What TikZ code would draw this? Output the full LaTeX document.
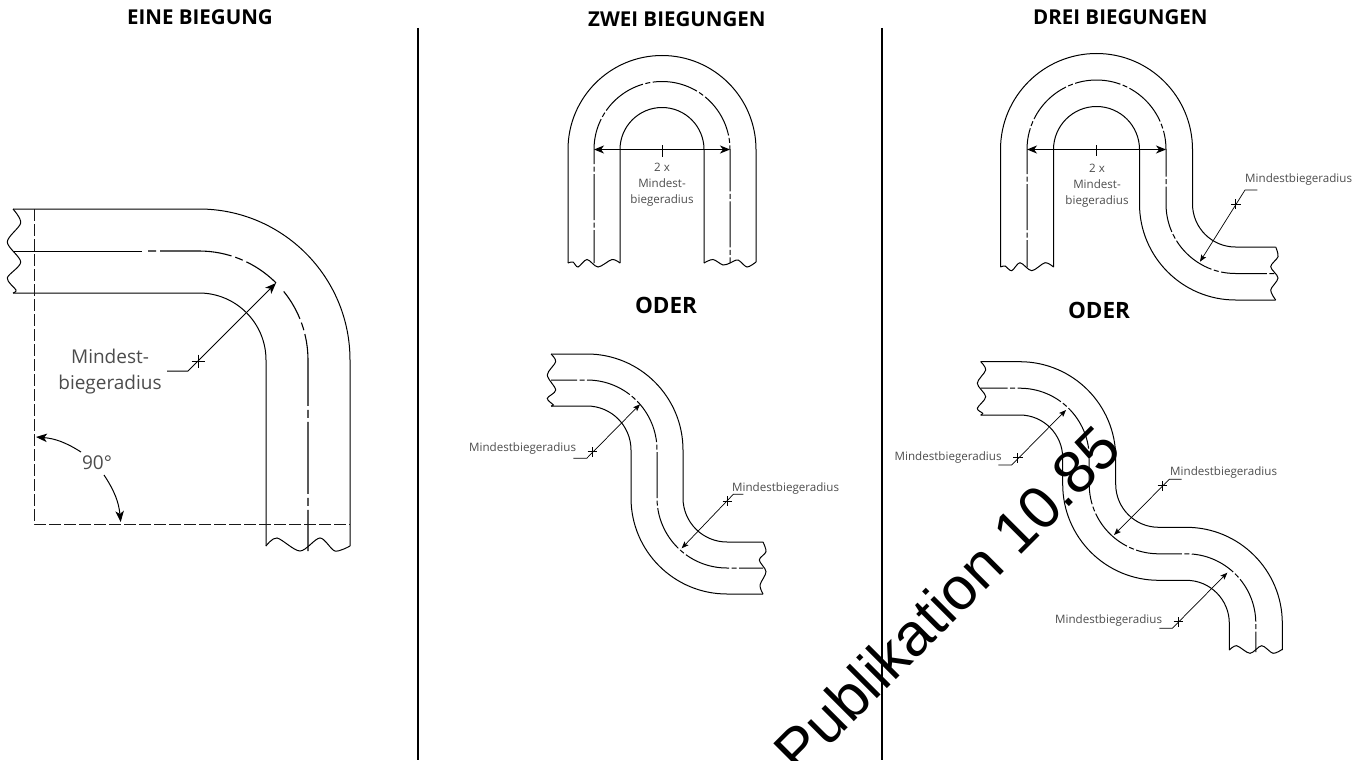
\documentclass[tikz,border=0pt]{standalone}
\usepackage{fontspec}
\setmainfont{Open Sans}
\newfontfamily\stampfont{Liberation Sans}
\usepackage{xcolor}
\usetikzlibrary{arrows.meta, calc}

\begin{document}
\begin{tikzpicture}[
  x=1pt, y=-1pt,
  pipe/.style={line width=1pt, black},
  axis/.style={line width=1pt, black, dash pattern=on 46pt off 2.5pt on 5pt off 2.5pt},
  bigaxis/.style={line width=1.1pt, black, dash pattern=on 72pt off 4pt on 8pt off 4pt},
  hidden/.style={line width=1pt, black!90, dash pattern=on 12pt off 3pt},
  wall/.style={line width=2pt, black},
  dim/.style={{Stealth[length=10pt,width=8pt,inset=3pt]}-{Stealth[length=10pt,width=8pt,inset=3pt]}, line width=1pt},
  biglead/.style={-{Stealth[length=11pt,width=8.5pt,inset=3pt]}, line width=1pt},
  lead/.style={-{Stealth[length=7pt,width=5.5pt,inset=1.5pt]}, line width=0.7pt},
  tick/.style={line width=0.7pt},
  head/.style={font=\bfseries\fontsize{20.5}{24}\selectfont, inner sep=0pt, anchor=west},
  orhead/.style={font=\bfseries\fontsize{22.5}{26}\selectfont, inner sep=0pt},
  note/.style={font=\fontsize{11.6}{16}\selectfont, text=black!70, inner sep=0pt, align=center},
  bignote/.style={font=\fontsize{19}{26}\selectfont, text=black!70, inner sep=0pt, align=center}
]
  \useasboundingbox (0,0) rectangle (1372,760);

  \node[head] (h1) at (127,17.5) {EINE BIEGUNG};
  \node[head] (h2) at (588,19.5) {ZWEI BIEGUNGEN};
  \node[head] (h3) at (1033,17.5) {DREI BIEGUNGEN};
  \node[orhead] (or2) at (666,305) {ODER};
  \node[orhead] (or3) at (1099,310) {ODER};
  \draw[wall] (418,28) -- (418,760);
  \draw[wall] (882,28) -- (882,760);

  % eine biegung
  \draw[pipe] (13,209) -- (199,209) arc[start angle=90, end angle=0, radius=151pt] -- (350,546);
  \draw[pipe] (13,293) -- (199,293) arc[start angle=90, end angle=0, radius=67pt] -- (266,546);
  \draw[pipe] (13,251) -- (142,251);
  \draw[bigaxis, dash phase=76pt] (148,251) -- (199,251) arc[start angle=90, end angle=45, radius=109pt];
  \draw[bigaxis, dash phase=40pt] (283.7,291.4) arc[start angle=39, end angle=0, radius=109pt] -- (308,551);
  \draw[pipe] plot[smooth] coordinates {(13,209) (20.7,223) (7.3,242) (20.7,262) (7.3,278) (16,290) (13,293)};
  \draw[pipe] plot[smooth] coordinates {(266,546) (277,538) (300,551) (320,538) (335,551) (350,546)};
  \draw[hidden] (34,209) -- (34,524) -- (350,524);
  \coordinate (k1) at (167,371);
  \coordinate (k2) at (188,371);
  \coordinate (k3) at (276,283);
  \draw[biglead] (k1) -- (k2) -- (k3);
  \draw[tick] (191.5,361) -- (205,361) (198.3,354.5) -- (198.3,367.5);
  \node[bignote] (n1) at (110,371.5) {Mindest-\\biegeradius};
  \node[font=\fontsize{19}{22}\selectfont, text=black!70, inner sep=0pt] (ang) at (97,463) {90°};
  \draw[biglead] (81,452) to[bend right=14] (36,437);
  \draw[biglead] (104,475) to[bend left=14] (120.7,522);

  % zwei biegungen, u-form
  \draw[pipe] (568,263) -- (568,149.5) arc[start angle=180, end angle=0, radius=94pt] -- (756,262);
  \draw[pipe] (620,263) -- (620,149.5) arc[start angle=180, end angle=0, radius=42pt] -- (704,263);
  \draw[axis, dash phase=13pt] (594,263) -- (594,149.5) arc[start angle=180, end angle=0, radius=68pt] -- (730,263);
  \draw[pipe] plot[smooth] coordinates {(568,263) (573,262) (578,267) (587,259.5) (598,267) (612,259.5) (620,263)};
  \draw[pipe] plot[smooth] coordinates {(704,263) (713,259.5) (723,265) (730,263) (738,260) (747,267) (756,262)};
  \draw[dim] (594,149.5) -- (730,149.5);
  \draw[tick] (662,145) -- (662,157);
  \node[note] (n2) at (662,184.5) {2 x\\Mindest-\\biegeradius};

  % zwei biegungen, s-form
  \draw[pipe] (551,354) -- (587,354) arc[start angle=90, end angle=0, radius=96pt] -- (683,498) arc[start angle=180, end angle=270, radius=44pt] -- (763,542);
  \draw[pipe] (551,406) -- (587,406) arc[start angle=90, end angle=0, radius=44pt] -- (631,498) arc[start angle=180, end angle=270, radius=96pt] -- (763,594);
  \draw[axis, dash phase=20pt] (551,380) -- (587,380) arc[start angle=90, end angle=0, radius=70pt] -- (657,498) arc[start angle=180, end angle=270, radius=70pt] -- (763,568);
  \draw[pipe] plot[smooth] coordinates {(551,354) (555.7,361.7) (547.3,375) (555.7,390) (547.3,398.3) (553.3,405) (551,406)};
  \draw[pipe] plot[smooth] coordinates {(763,542) (766,551.7) (759.3,560) (766,571.7) (760,585) (763,594)};
  \coordinate (s1) at (573.3,458.3);
  \coordinate (s2) at (586.7,458.3);
  \coordinate (s3) at (640,404.3);
  \draw[lead] (s1) -- (s2) -- (s3);
  \draw[tick] (587.5,451.7) -- (597,451.7) (592.3,447) -- (592.3,456.5);
  \node[note, anchor=west] (n3) at (469,448) {Mindestbiegeradius};
  \coordinate (s4) at (743.3,494.3);
  \coordinate (s5) at (733.3,494.3);
  \coordinate (s6) at (681.7,548.3);
  \draw[lead] (s4) -- (s5) -- (s6);
  \draw[tick] (722.5,501) -- (732,501) (727.3,496.3) -- (727.3,505.8);
  \node[note, anchor=west] (n4) at (732,488) {Mindestbiegeradius};

  % drei biegungen, oben
  \draw[pipe] (1000.5,267) -- (1000.5,149.5) arc[start angle=180, end angle=0, radius=96pt] -- (1192.5,204) arc[start angle=180, end angle=270, radius=43pt] -- (1275.7,247);
  \draw[pipe] (1053.5,267) -- (1053.5,149.5) arc[start angle=180, end angle=0, radius=43pt] -- (1139.5,204) arc[start angle=180, end angle=270, radius=96pt] -- (1275.7,300);
  \draw[axis, dash phase=19pt] (1027,267) -- (1027,149.5) arc[start angle=180, end angle=0, radius=69.5pt] -- (1166,204) arc[start angle=180, end angle=270, radius=69.5pt] -- (1275.7,273.5);
  \draw[pipe] plot[smooth] coordinates {(1000.5,267) (1005,266) (1011.7,270.7) (1020,262.7) (1031.7,270.7) (1045,262.7) (1053.5,267)};
  \draw[pipe] plot[smooth] coordinates {(1275.7,247) (1278,256.7) (1270.7,266.7) (1278,278) (1270.7,290) (1275.7,300)};
  \draw[dim] (1027,149.5) -- (1166,149.5);
  \draw[tick] (1096.7,145) -- (1096.7,156);
  \node[note] (n5) at (1097,185.5) {2 x\\Mindest-\\biegeradius};
  \coordinate (d1) at (1257.3,190);
  \coordinate (d2) at (1245,190);
  \coordinate (d3) at (1200,261.7);
  \draw[lead] (d1) -- (d2) -- (d3);
  \draw[tick] (1231,204) -- (1240.5,204) (1235.7,199.3) -- (1235.7,208.8);
  \node[note, anchor=west] (n6) at (1245,179.3) {Mindestbiegeradius};

  % drei biegungen, unten
  \draw[pipe] (980.7,361.7) -- (1019.7,361.7) arc[start angle=90, end angle=0, radius=96pt] -- (1115.7,484.3) arc[start angle=180, end angle=270, radius=43pt] -- (1186.3,527.3) arc[start angle=90, end angle=0, radius=96pt] -- (1282.3,650);
  \draw[pipe] (980.7,415) -- (1019.7,415) arc[start angle=90, end angle=0, radius=43pt] -- (1062.7,484.3) arc[start angle=180, end angle=270, radius=96pt] -- (1186.3,580.3) arc[start angle=90, end angle=0, radius=43pt] -- (1229.3,650);
  \draw[axis, dash phase=19pt] (980.7,388.2) -- (1019.7,388.2) arc[start angle=90, end angle=0, radius=69.5pt] -- (1089.2,484.3) arc[start angle=180, end angle=270, radius=69.5pt] -- (1186.3,553.8) arc[start angle=90, end angle=0, radius=69.5pt] -- (1255.8,652);
  \draw[pipe] plot[smooth] coordinates {(980.7,361.7) (985.7,370) (977.3,383.3) (985.7,396.7) (977.3,408.3) (982.7,413.3) (980.7,415)};
  \draw[pipe] plot[smooth] coordinates {(1229.3,650) (1236.7,645.7) (1250,653.3) (1261.7,645.7) (1273,653.3) (1282.3,649.3)};
  \coordinate (t1) at (998.3,465);
  \coordinate (t2) at (1011.7,465);
  \coordinate (t3) at (1066,410);
  \draw[lead] (t1) -- (t2) -- (t3);
  \draw[tick] (1013,457.7) -- (1022.5,457.7) (1017.7,453) -- (1017.7,462.5);
  \node[note, anchor=west] (n7) at (894.5,457.7) {Mindestbiegeradius};
  \coordinate (t4) at (1181.7,479.3);
  \coordinate (t5) at (1169.3,479.3);
  \coordinate (t6) at (1114,535);
  \draw[lead] (t4) -- (t5) -- (t6);
  \draw[tick] (1157.5,485.7) -- (1167,485.7) (1162.3,481) -- (1162.3,490.5);
  \node[note, anchor=west] (n8) at (1170,472.7) {Mindestbiegeradius};
  \coordinate (t7) at (1159.3,628.3);
  \coordinate (t8) at (1172.3,628.3);
  \coordinate (t9) at (1227.3,572.7);
  \draw[lead] (t7) -- (t8) -- (t9);
  \draw[tick] (1173.5,621.7) -- (1183,621.7) (1178.3,617) -- (1178.3,626.5);
  \node[note, anchor=west] (n9) at (1055,620.7) {Mindestbiegeradius};

  \node[anchor=base west, rotate=45, inner sep=0pt, font=\stampfont\fontsize{60}{62}\selectfont, draw=none] (stamp) at (799,777) {Publikation 10.85};
\end{tikzpicture}
\end{document}
